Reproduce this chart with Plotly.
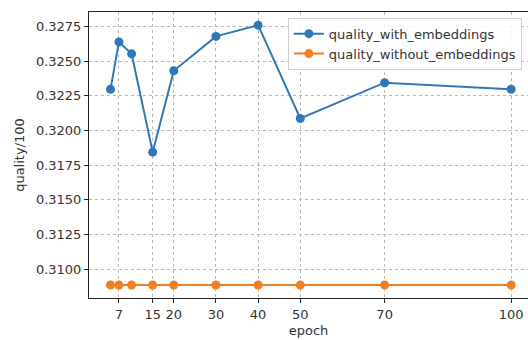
import plotly.graph_objects as go

# Training epochs and the quality (scaled by 1/100) reached at each of them
epochs = [5, 7, 10, 15, 20, 30, 40, 50, 70, 100]
quality_with_embeddings = [0.32297, 0.32638, 0.32552, 0.31843, 0.32430,
                           0.32678, 0.32759, 0.32086, 0.32344, 0.32297]
quality_without_embeddings = [0.30885] * len(epochs)

x_ticks = [7, 15, 20, 30, 40, 50, 70, 100]
y_ticks = [0.3100, 0.3125, 0.3150, 0.3175, 0.3200, 0.3225, 0.3250, 0.3275]

BLUE = "#2f78b8"
ORANGE = "#f07e22"
FONT = "DejaVu Sans"

fig = go.Figure()

for name, values, color in [
    ("quality_with_embeddings", quality_with_embeddings, BLUE),
    ("quality_without_embeddings", quality_without_embeddings, ORANGE),
]:
    fig.add_trace(go.Scatter(
        x=epochs, y=values, name=name, mode="lines+markers",
        line=dict(color=color, width=2),
        marker=dict(color=color, size=9),
    ))

axis_common = dict(
    showline=True, linecolor="#222", linewidth=1,
    ticks="outside", ticklen=4, tickcolor="#222",
    showgrid=True, gridcolor="#b8b8b8", griddash="dot", gridwidth=1,
    zeroline=False,
    tickfont=dict(family=FONT, size=13, color="#333"),
)

fig.update_layout(
    width=528, height=340,
    margin=dict(l=89, r=0, t=12, b=42),
    paper_bgcolor="white", plot_bgcolor="white",
    font=dict(family=FONT, size=13, color="#333"),
    xaxis=dict(
        **axis_common, mirror=True, range=[-0.1, 104.0],
        tickvals=x_ticks, ticktext=[str(t) for t in x_ticks],
        title=dict(text="epoch", standoff=5,
                   font=dict(family=FONT, size=13, color="#333")),
    ),
    yaxis=dict(
        **axis_common, range=[0.30791, 0.32854],
        tickvals=y_ticks, tickformat=".4f",
        title=dict(text="quality/100", standoff=8,
                   font=dict(family=FONT, size=13, color="#333")),
    ),
    legend=dict(
        x=0.453, y=0.98, xanchor="left", yanchor="top",
        bgcolor="rgba(255,255,255,0.85)", bordercolor="#d0d0d0", borderwidth=1,
        font=dict(family=FONT, size=13, color="#333"),
        tracegroupgap=0, itemwidth=30,
    ),
    showlegend=True,
)

fig.write_html("out.html")
